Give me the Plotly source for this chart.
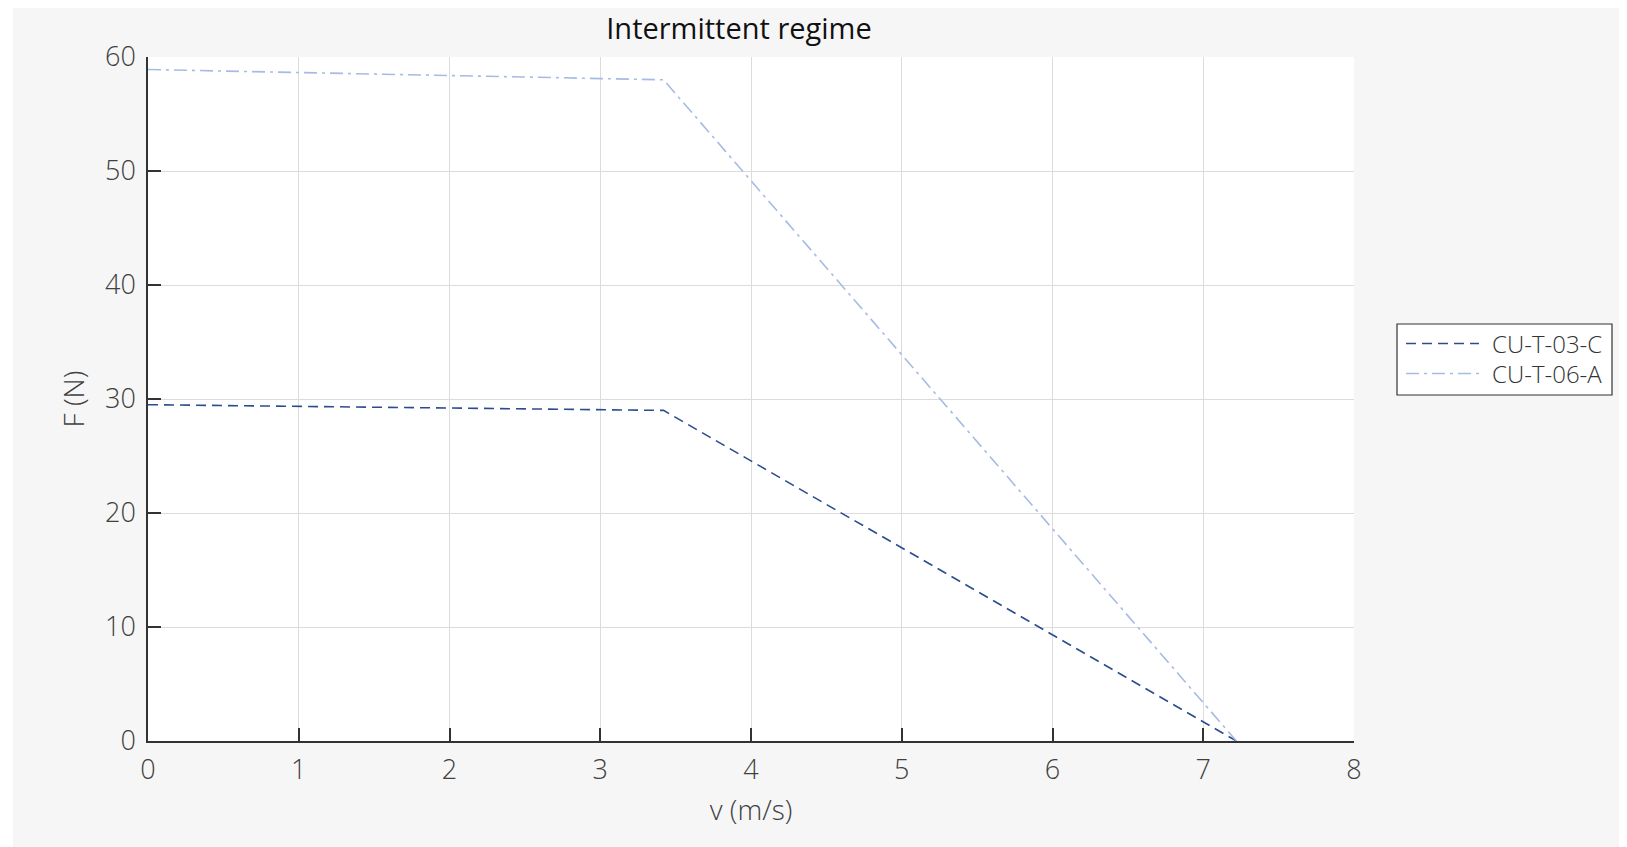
import plotly.graph_objects as go

# data
v_03C = [0, 3.42, 7.22]
F_03C = [29.5, 29.0, 0]
v_06A = [0, 3.42, 7.22]
F_06A = [58.9, 58.0, 0]
names = ["CU-T-03-C", "CU-T-06-A"]
colors = ["#2c4c90", "#a6bbe3"]
dashes = ["10px,6px", "13px,5px,3px,5px"]
x_ticks = [0, 1, 2, 3, 4, 5, 6, 7, 8]
y_ticks = [0, 10, 20, 30, 40, 50, 60]

FONT = "Open Sans"
W, H = 1619, 839
ml, mt = 140, 49
pw, ph = 1206, 684
mr, mb = W - ml - pw, H - mt - ph


def px(xf):
    return (xf - ml) / pw


def py(yf):
    return 1 - (yf - mt) / ph


fig = go.Figure()
for xs, ys, nm, c, d in [(v_03C, F_03C, names[0], colors[0], dashes[0]),
                         (v_06A, F_06A, names[1], colors[1], dashes[1])]:
    fig.add_trace(go.Scatter(x=xs, y=ys, mode="lines", name=nm, showlegend=False,
                             line=dict(color=c, width=1.6, dash=d)))

# white strip on left edge (page background)
fig.add_shape(type="rect", xref="paper", yref="paper",
              x0=px(-2), x1=px(5), y0=py(H + 2), y1=py(-2),
              fillcolor="white", line_width=0, layer="below")

# manual legend (box, samples, labels)
lx0, lx1, ly0, ly1 = 1389, 1604, 316, 387
fig.add_shape(type="rect", xref="paper", yref="paper",
              x0=px(lx0), x1=px(lx1), y0=py(ly1), y1=py(ly0),
              fillcolor="white", line=dict(color="#333333", width=1.2), layer="above")
for i, (nm, c, d) in enumerate(zip(names, colors, dashes)):
    yy = 335.5 + 30 * i
    fig.add_shape(type="line", xref="paper", yref="paper",
                  x0=px(1398), x1=px(1471), y0=py(yy), y1=py(yy),
                  line=dict(color=c, width=1.6, dash=d), layer="above")
    fig.add_annotation(text=nm, xref="paper", yref="paper", x=px(1482), y=py(yy),
                       xanchor="left", yanchor="middle", showarrow=False,
                       font=dict(family=FONT, size=24, color="#333333", weight=300))

axis_common = dict(showgrid=True, gridcolor="#dcdcdc", gridwidth=1,
                   showline=True, linecolor="#333333", linewidth=1.5,
                   ticks="inside", ticklen=13, tickcolor="#333333", tickwidth=1.5,
                   tickfont=dict(family=FONT, size=27, color="#404040", weight=300),
                   zeroline=False)
fig.update_xaxes(range=[0, 8], tickvals=x_ticks, ticklabelstandoff=4,
                 title=dict(text="v (m/s)", font=dict(family=FONT, size=28, color="#404040", weight=300),
                            standoff=14),
                 **axis_common)
fig.update_yaxes(range=[0, 60], tickvals=y_ticks, ticklabelstandoff=5,
                 title=dict(text="F (N)", font=dict(family=FONT, size=28, color="#404040", weight=300),
                            standoff=12),
                 **axis_common)

fig.update_layout(
    width=W, height=H, autosize=False,
    margin=dict(l=ml, r=mr, t=mt, b=mb, pad=0),
    paper_bgcolor="#f6f6f6", plot_bgcolor="white",
    title=dict(text="Intermittent regime", x=px(731), xref="paper", xanchor="center",
               y=1 - 20.5 / H, yanchor="middle",
               font=dict(family=FONT, size=29, color="#111111")),
    showlegend=False,
)

fig.write_html("out.html")
